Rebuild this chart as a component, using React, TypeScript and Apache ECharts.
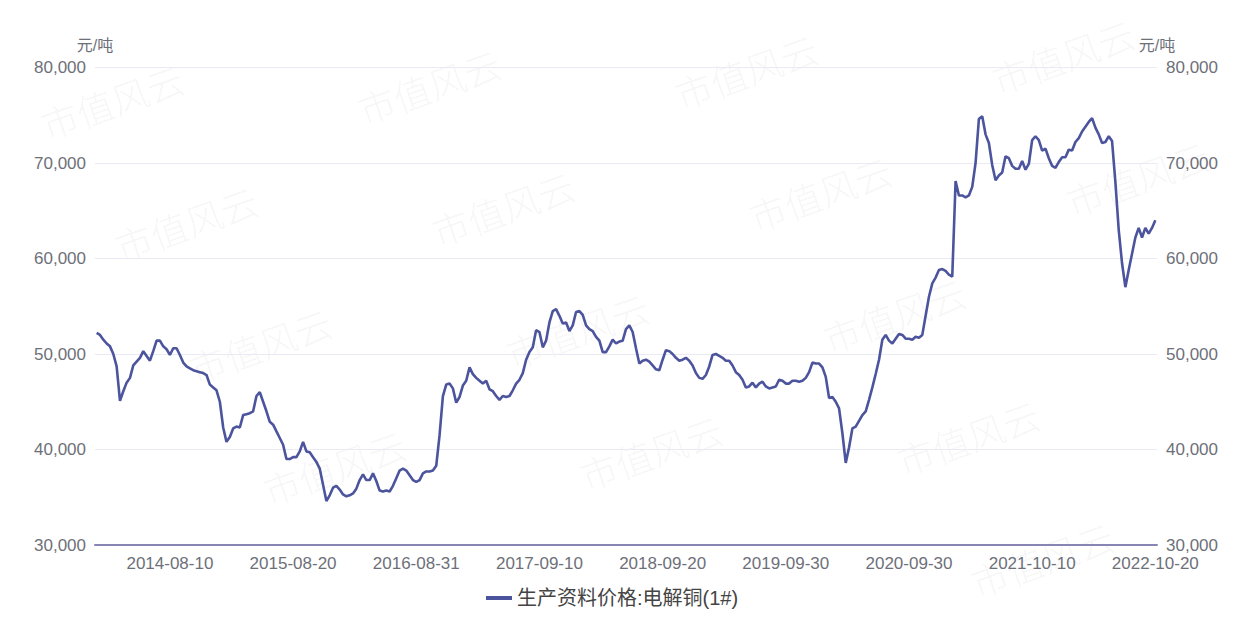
import React, { useEffect, useRef } from "react";
import * as echarts from "echarts";

const SERIES_NAME = "生产资料价格:电解铜(1#)";
const UNIT = "元/吨";
const X_LABELS = [
  "2014-08-10", "2015-08-20", "2016-08-31", "2017-09-10", "2018-09-20",
  "2019-09-30", "2020-09-30", "2021-10-10", "2022-10-20",
];
const Y_MIN = 30000;
const Y_MAX = 80000;
const Y_STEP = 10000;
const FIRST_DATE = "2013-12-31";
const LAST_DATE = "2022-10-20";
const EXTRA_DATE = "2020-02-03";
const WATERMARK = "市值风云";

// 1# electrolytic copper, yuan/ton, every ten days
const PRICES = [
  52200, 52000, 51500, 51100, 50800, 50000, 48700, 45100, 46100, 47000,
  47500, 48800, 49200, 49600, 50300, 49800, 49300, 50300, 51400, 51400,
  50800, 50500, 49900, 50600, 50600, 49900, 49100, 48700, 48500, 48300,
  48200, 48100, 48000, 47800, 46800, 46500, 46200, 45000, 42300, 40800,
  41300, 42200, 42400, 42300, 43600, 43700, 43800, 44000, 45600, 46000,
  45000, 44000, 42900, 42600, 41900, 41200, 40500, 39000, 39000, 39200,
  39200, 39800, 40800, 39800, 39700, 39200, 38700, 38000, 36300, 34600,
  35200, 36000, 36200, 35800, 35300, 35100, 35200, 35400, 35900, 36800,
  37400, 36800, 36800, 37500, 36700, 35700, 35600, 35700, 35600, 36200,
  37000, 37800, 38000, 37800, 37300, 36800, 36600, 36800, 37500, 37700,
  37700, 37800, 38300, 41500, 45600, 46800, 46900, 46400, 44900, 45500,
  46700, 47200, 48600, 47900, 47500, 47200, 46900, 47200, 46300, 46100,
  45600, 45200, 45600, 45500, 45600, 46200, 46900, 47300, 48000, 49400,
  50200, 50700, 52500, 52300, 50700, 51400, 53300, 54500, 54700, 54000,
  53200, 53300, 52400, 53000, 54400, 54500, 54100, 53000, 52600, 52400,
  51800, 51400, 50200, 50200, 50800, 51500, 51100, 51300, 51400, 52600,
  53000, 52300, 50600, 49000, 49300, 49400, 49200, 48800, 48400, 48300,
  49400, 50400, 50300, 50000, 49600, 49300, 49400, 49600, 49300, 48800,
  48000, 47500, 47400, 47800, 48700, 49900, 50000, 49800, 49600, 49300,
  49300, 48800, 48100, 47800, 47300, 46500, 46600, 47000, 46500, 46900,
  47100, 46600, 46400, 46500, 46600, 47300, 47200, 46900, 46900, 47200,
  47200, 47100, 47200, 47500, 48100, 49100, 49000, 49000, 48600, 47600,
  45400, 45500, 45000, 44300, 41700, 38600, 40200, 42200, 42400, 43000,
  43600, 44000, 45200, 46500, 47900, 49400, 51500, 52000, 51400, 51100,
  51600, 52100, 52000, 51600, 51600, 51500, 51800, 51700, 52000, 54000,
  56000, 57400, 58000, 58800, 58900, 58700, 58300, 58100, 68100, 66600,
  66600, 66400, 66600, 67500, 70000, 74600, 74900, 73000, 72100, 69800,
  68200, 68700, 69000, 70700, 70500, 69700, 69400, 69400, 70200, 69300,
  69900, 72400, 72800, 72400, 71300, 71500, 70500, 69700, 69500, 70100,
  70600, 70600, 71400, 71300, 72200, 72600, 73300, 73800, 74300, 74700,
  73700, 73000, 72100, 72200, 72800, 72300, 68000, 63000, 59500, 57000,
  58800, 60500, 62200, 63200, 62200, 63200, 62600, 63200, 64000,
];

const pad = (n: number) => (n < 10 ? "0" + n : "" + n);

// ten-day dates (10th, 20th, month end) from FIRST_DATE to LAST_DATE
function buildDates(): string[] {
  const out: string[] = [FIRST_DATE];
  for (let y = 2014; y <= 2022; y++) {
    for (let m = 1; m <= 12; m++) {
      const last = new Date(y, m, 0).getDate();
      for (const d of [10, 20, last]) {
        const s = `${y}-${pad(m)}-${pad(d)}`;
        if (s > LAST_DATE) return out;
        out.push(s);
        if (s === "2020-01-31") out.push(EXTRA_DATE);
      }
    }
  }
  return out;
}
const DATES = buildDates();

const fmt = (v: number) => v.toLocaleString("en-US");

function watermarks() {
  const els: any[] = [];
  const fs = 37;
  const rot = 0.34;
  const L = fs * 4;
  const hw = (L * Math.cos(rot) + fs * Math.sin(rot)) / 2;
  const hh = (L * Math.sin(rot) + fs * Math.cos(rot)) / 2;
  for (let j = -1; j <= 5; j++) {
    for (let i = -1; i <= 4; i++) {
      const cx = 112 + 317 * i + 74 * j;
      const cy = 101 - 15 * i + 122 * j;
      if (cx - hw < 2 || cx + hw > 1251 || cy - hh < 6 || cy + hh > 604) continue;
      els.push({
        type: "text",
        x: cx,
        y: cy,
        rotation: rot,
        silent: true,
        z: -10,
        style: {
          text: WATERMARK,
          fill: "rgba(0,0,0,0.055)",
          fontSize: fs,
          fontWeight: 300,
          fontFamily: "'Noto Sans CJK SC', sans-serif",
          align: "center",
          verticalAlign: "middle",
        },
      });
    }
  }
  return els;
}

export default function App() {
  const ref = useRef<HTMLDivElement>(null);
  useEffect(() => {
    if (!ref.current) return;
    const chart = echarts.init(ref.current, undefined, { renderer: "svg" });
    const font = "'Liberation Sans', 'Noto Sans CJK SC', sans-serif";
    const labelColor = "#6e7079";
    const yAxisBase = {
      type: "value",
      min: Y_MIN,
      max: Y_MAX,
      interval: Y_STEP,
      name: UNIT,
      nameLocation: "end",
      nameGap: 14,
      nameTextStyle: { color: "#6e7079", fontSize: 16, fontFamily: font },
      axisLine: { show: false },
      axisTick: { show: false },
      axisLabel: { color: labelColor, fontSize: 17, fontFamily: font, formatter: fmt, margin: 9 },
    };
    chart.setOption({
      animation: false,
      backgroundColor: "#ffffff",
      graphic: watermarks(),
      grid: { left: 95, right: 96, top: 67.5, bottom: 75, containLabel: false },
      legend: {
        bottom: 7,
        left: 481,
        icon: "rect",
        itemWidth: 26,
        itemHeight: 4,
        itemGap: 10,
        textStyle: { color: "#444", fontSize: 20, fontFamily: font },
        data: [SERIES_NAME],
      },
      xAxis: {
        type: "category",
        data: DATES,
        boundaryGap: true,
        axisLine: { show: true, lineStyle: { color: "#8884b4", width: 2 } },
        axisTick: { show: false },
        axisLabel: {
          color: labelColor,
          fontSize: 17,
          fontFamily: font,
          margin: 10,
          interval: (_i: number, v: string) => X_LABELS.includes(v),
        },
        splitLine: { show: false },
      },
      yAxis: [
        {
          ...yAxisBase,
          position: "left",
          splitLine: { show: true, lineStyle: { color: "#e9eaf3", width: 1 } },
        },
        {
          ...yAxisBase,
          position: "right",
          splitLine: { show: false },
        },
      ],
      series: [
        {
          name: SERIES_NAME,
          type: "line",
          data: PRICES,
          symbol: "none",
          showSymbol: false,
          yAxisIndex: 0,
          lineStyle: { color: "#4b549c", width: 2.6 },
          itemStyle: { color: "#4b549c" },
          z: 5,
        },
      ],
    });
    return () => chart.dispose();
  }, []);
  return (
    <div
      ref={ref}
      style={{ position: "fixed", left: 0, top: 0, width: 1253, height: 620, background: "#fff" }}
    />
  );
}
